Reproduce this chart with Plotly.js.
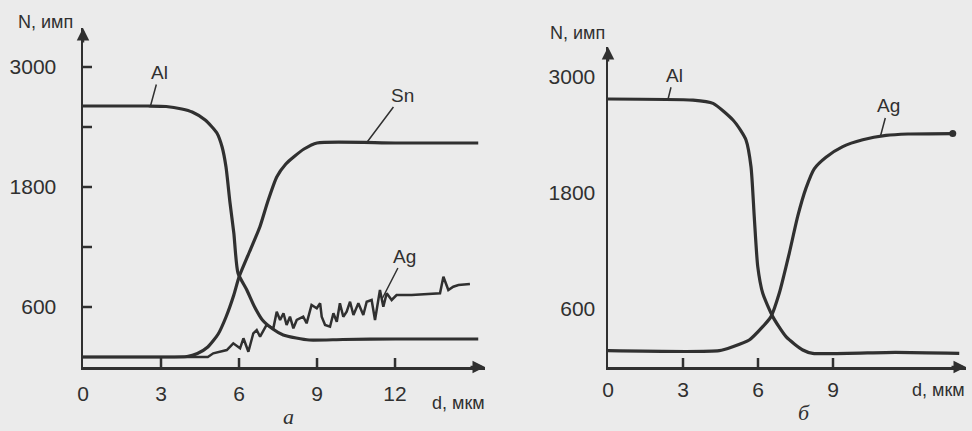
<!DOCTYPE html>
<html><head><meta charset="utf-8">
<script src="https://cdn.plot.ly/plotly-3.0.1.min.js"></script>
<style>html,body{margin:0;padding:0;background:#ebebeb;}#chart{width:972px;height:431px;}</style>
</head><body><div id="chart"></div>
<script>
// Panel a
const aAlD = [0, 2.5, 3.2, 3.8, 4.2, 4.7, 5.15, 5.35, 5.5, 5.65, 5.8, 5.96, 6.3, 6.6, 6.9, 7.3, 7.7, 8.2, 8.7, 10, 12, 15.2];
const aAlN = [2610, 2610, 2605, 2580, 2550, 2470, 2340, 2200, 2000, 1650, 1340, 940, 770, 600, 470, 380, 320, 290, 270, 275, 280, 280];
const aSnD = [0, 3, 4.0, 4.4, 4.8, 5.2, 5.5, 5.8, 6.0, 6.4, 6.8, 7.1, 7.45, 7.8, 8.1, 8.5, 9.0, 12, 15.2];
const aSnN = [100, 100, 105, 135, 200, 330, 500, 720, 900, 1150, 1400, 1650, 1900, 2030, 2100, 2180, 2240, 2240, 2240];
const aAgD = [0, 4.8, 5.01, 5.53, 5.78, 6.04, 6.17, 6.36, 6.55, 6.68, 6.81, 7.06, 7.32, 7.45, 7.58, 7.71, 7.83, 7.96, 8.09, 8.22, 8.47, 8.60, 8.79, 8.99, 9.12, 9.18, 9.31, 9.50, 9.63, 9.76, 9.88, 10.01, 10.14, 10.27, 10.40, 10.59, 10.78, 10.91, 11.10, 11.23, 11.42, 11.55, 11.68, 11.87, 12.06, 12.64, 13.73, 13.86, 14.05, 14.24, 14.44, 14.88];
const aAgN = [100, 100, 137, 170, 237, 187, 287, 153, 337, 370, 303, 420, 387, 553, 470, 537, 420, 503, 387, 470, 503, 437, 620, 587, 637, 503, 420, 403, 537, 453, 637, 503, 553, 653, 520, 637, 520, 653, 670, 470, 770, 603, 737, 670, 720, 720, 737, 903, 770, 803, 820, 830];
// Panel б
const bAlD = [0, 3.4, 4.2, 5.0, 5.3, 5.52, 5.72, 5.85, 5.99, 6.19, 6.59, 7.12, 7.79, 8.19, 11.5, 14.05];
const bAlN = [2772, 2760, 2727, 2555, 2450, 2348, 2072, 1555, 1038, 762, 521, 314, 176, 141, 152, 141];
const bAgD = [0, 4.45, 4.99, 5.65, 6.19, 6.52, 6.85, 7.25, 7.59, 7.92, 8.25, 8.72, 9.39, 10.19, 11.12, 12.0, 13.79];
const bAgN = [169, 169, 210, 279, 417, 521, 762, 1176, 1560, 1850, 2050, 2170, 2280, 2350, 2395, 2410, 2415];
// ticks
const yTickVals = [600, 1200, 1800, 2400, 3000];
const yTickText = ['600', '', '1800', '', '3000'];
const aXTickVals = [0, 3, 6, 9, 12];
const bXTickVals = [0, 3, 6, 9];

const ink = '#303030';
const sp = {shape: 'spline', smoothing: 0.6, color: ink, width: 3.2};
const font = {family: 'Liberation Sans, Arial, sans-serif', size: 21, color: ink};

const traces = [
  {x: aAlD, y: aAlN, xaxis: 'x', yaxis: 'y', mode: 'lines', line: sp},
  {x: aSnD, y: aSnN, xaxis: 'x', yaxis: 'y', mode: 'lines', line: sp},
  {x: aAgD, y: aAgN, xaxis: 'x', yaxis: 'y', mode: 'lines', line: {color: ink, width: 2.5}},
  {x: bAlD, y: bAlN, xaxis: 'x2', yaxis: 'y2', mode: 'lines', line: sp},
  {x: bAgD, y: bAgN, xaxis: 'x2', yaxis: 'y2', mode: 'lines', line: sp},
  {x: bAgD.slice(-1), y: bAgN.slice(-1), xaxis: 'x2', yaxis: 'y2', mode: 'markers', marker: {color: ink, size: 7}}
];

const axBase = {showgrid: false, zeroline: false, showline: true, linecolor: ink, linewidth: 2.5,
  ticks: '', tickfont: font};

// tick marks as pixel-sized shapes anchored at the tick values
const tickLine = {type: 'line', layer: 'above', line: {color: ink, width: 2.5}};
const xTick = (xr, yr, v) => Object.assign({}, tickLine, {xref: xr, yref: yr, x0: v, x1: v,
  ysizemode: 'pixel', yanchor: 0, y0: 0, y1: 9});
const yTick = (xr, yr, v, dir) => Object.assign({}, tickLine, {xref: xr, yref: yr, y0: v, y1: v,
  xsizemode: 'pixel', xanchor: 0, x0: 0, x1: 9 * dir});
const shapes = [].concat(
  aXTickVals.filter(v => v > 0).map(v => xTick('x', 'y', v)),
  bXTickVals.filter(v => v > 0).map(v => xTick('x2', 'y2', v)),
  yTickVals.map(v => yTick('x', 'y', v, 1)),
  yTickVals.map(v => yTick('x2', 'y2', v, -1))
);

const ann = (text, xref, yref, x, y, ax, ay) => ({text, xref, yref, x, y, ax, ay,
  showarrow: true, arrowhead: 0, arrowwidth: 1.5, arrowcolor: ink, font: {family: font.family, size: 19, color: ink}});
const arrowEnd = (xref, yref, x, y, ax, ay) => ({text: '', xref, yref, x, y, ax, ay, showarrow: true,
  arrowhead: 2, arrowsize: 1, arrowwidth: 2.5, arrowcolor: ink});
const ptxt = (text, x, y, extra) => Object.assign({text, xref: 'paper', yref: 'paper', x: x / 972, y: 1 - y / 431,
  xanchor: 'center', yanchor: 'middle', showarrow: false, font: {family: font.family, size: 18, color: ink}}, extra || {});

const layout = {
  width: 972, height: 431, margin: {l: 0, r: 0, t: 0, b: 0},
  paper_bgcolor: '#ebebeb', plot_bgcolor: 'rgba(0,0,0,0)', showlegend: false,
  xaxis: Object.assign({}, axBase, {domain: [83 / 972, 485 / 972], range: [0, 15.46], tickvals: aXTickVals, ticklabelstandoff: 6, anchor: 'y'}),
  yaxis: Object.assign({}, axBase, {domain: [64 / 431, 403 / 431], range: [0, 3390], tickvals: yTickVals, ticktext: yTickText, ticklabelstandoff: 20, anchor: 'x'}),
  xaxis2: Object.assign({}, axBase, {domain: [608 / 972, 966 / 972], range: [0, 14.32], tickvals: bXTickVals, ticklabelstandoff: 2, anchor: 'y2'}),
  yaxis2: Object.assign({}, axBase, {domain: [64 / 431, 384 / 431], range: [0, 3310], tickvals: yTickVals, ticktext: yTickText, ticklabelstandoff: 6, anchor: 'x2'}),
  shapes: shapes,
  annotations: [
    ann('Al', 'x', 'y', 2.6, 2615, 9, -33),
    ann('Sn', 'x', 'y', 10.9, 2240, 36, -48),
    ann('Ag', 'x', 'y', 11.5, 680, 22, -43),
    ann('Al', 'x2', 'y2', 2.4, 2770, 6, -24),
    ann('Ag', 'x2', 'y2', 10.9, 2390, 8, -30),
    arrowEnd('x', 'y', 15.46, 0, -16, 0),
    arrowEnd('x', 'y', 0, 3390, 0, 16),
    arrowEnd('x2', 'y2', 14.32, 0, -16, 0),
    arrowEnd('x2', 'y2', 0, 3310, 0, 16),
    ptxt('N, имп', 45, 22),
    ptxt('N, имп', 577, 33),
    ptxt('d, мкм', 458, 403),
    ptxt('d, мкм', 938, 390),
    ptxt('<i>а</i>', 288, 416, {font: {family: 'Liberation Serif, serif', size: 22, color: ink}}),
    ptxt('<i>б</i>', 804, 412, {font: {family: 'Liberation Serif, serif', size: 22, color: ink}})
  ]
};
Plotly.newPlot('chart', traces, layout, {staticPlot: true});
</script></body></html>
